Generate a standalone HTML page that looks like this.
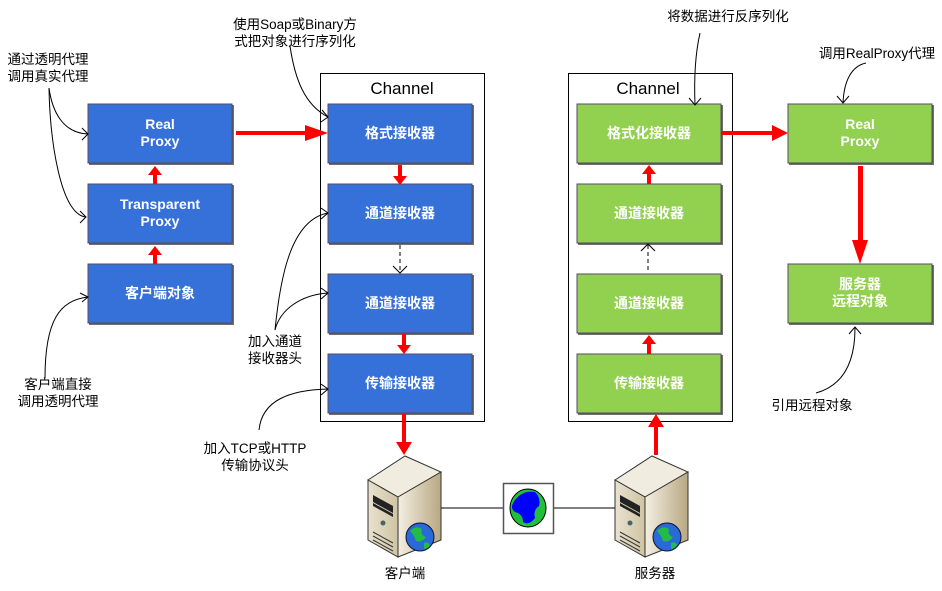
<!DOCTYPE html>
<html><head><meta charset="utf-8"><style>
html,body{margin:0;padding:0;background:#fff;}
svg text{font-family:"Liberation Sans","Noto Sans CJK SC",sans-serif;}
</style></head><body>
<svg width="942" height="586" viewBox="0 0 942 586" xmlns="http://www.w3.org/2000/svg">
<defs>
<linearGradient id="fr" x1="0" y1="0" x2="1" y2="0"><stop offset="0" stop-color="#e9e2cf"/><stop offset="1" stop-color="#cfc3a2"/></linearGradient>
<linearGradient id="sd" x1="0" y1="0" x2="1" y2="0"><stop offset="0" stop-color="#f4efe2"/><stop offset="1" stop-color="#b8a882"/></linearGradient>
<g id="srv">
<polygon points="0,27 37,3 73,19 30,44" fill="#f1ece0" stroke="#333" stroke-width="1"/>
<polygon points="0,27 30,44 30,104 0,87" fill="url(#fr)" stroke="#333" stroke-width="1"/>
<polygon points="30,44 73,19 73,87 30,104" fill="url(#sd)" stroke="#333" stroke-width="1"/>
<polygon points="5,42 25,53 25,60 5,49" fill="#222"/>
<polygon points="5,50 25,61 25,64 5,53" fill="#222"/>
<circle cx="15" cy="70" r="2.5" fill="#466"/>
<line x1="5" y1="79" x2="25" y2="90" stroke="#333"/>
<line x1="5" y1="83" x2="25" y2="94" stroke="#333"/>
<line x1="5" y1="87" x2="25" y2="98" stroke="#333"/>
<circle cx="52" cy="84" r="14" fill="#2a6ad8" stroke="#113" stroke-width="1"/>
<path d="M42,78 q6,-6 12,-2 q-2,6 4,8 q-4,6 -10,4 q-2,-6 -6,-10z M56,90 q4,-2 6,2 q-2,4 -6,4z" fill="#22bb44"/>
</g>
</defs>
<g fill="none" stroke="#000" stroke-width="1">
<rect x="320.5" y="73.5" width="164" height="348"/>
<rect x="568.5" y="73.5" width="164" height="348"/>
</g>
<text x="402" y="94" font-size="17" text-anchor="middle" fill="#000">Channel</text>
<text x="648" y="94" font-size="17" text-anchor="middle" fill="#000">Channel</text>
<g stroke="#5a4a6a" stroke-width="1">
<g fill="#3571d8">
<rect x="88" y="104" width="144" height="59"/>
<rect x="88" y="184" width="144" height="59"/>
<rect x="88" y="264" width="144" height="59"/>
<rect x="328" y="104" width="144" height="59"/>
<rect x="328" y="184" width="144" height="59"/>
<rect x="328" y="274" width="144" height="59"/>
<rect x="328" y="354" width="144" height="59"/>
</g>
<g fill="#92d050">
<rect x="577" y="104" width="144" height="59"/>
<rect x="577" y="184" width="144" height="59"/>
<rect x="577" y="274" width="144" height="59"/>
<rect x="577" y="354" width="144" height="59"/>
<rect x="788" y="104" width="144" height="59"/>
<rect x="788" y="264" width="144" height="59"/>
</g>
</g>
<g fill="none" stroke="#333" stroke-width="2" opacity="0.7">
<path d="M89,164 H233 V105"/><path d="M89,244 H233 V185"/><path d="M89,324 H233 V265"/>
<path d="M329,164 H473 V105"/><path d="M329,244 H473 V185"/><path d="M329,334 H473 V275"/><path d="M329,414 H473 V355"/>
<path d="M578,164 H722 V105"/><path d="M578,244 H722 V185"/><path d="M578,334 H722 V275"/><path d="M578,414 H722 V355"/>
<path d="M789,164 H933 V105"/><path d="M789,324 H933 V265"/>
</g>
<g fill="#fff" font-weight="bold" font-size="14" text-anchor="middle">
<text x="160" y="129">Real</text><text x="160" y="146">Proxy</text>
<text x="160" y="209">Transparent</text><text x="160" y="226">Proxy</text>
<text x="160" y="298">客户端对象</text>
<text x="400" y="138">格式接收器</text>
<text x="400" y="218">通道接收器</text>
<text x="400" y="308">通道接收器</text>
<text x="400" y="388">传输接收器</text>
<text x="649" y="138">格式化接收器</text>
<text x="649" y="218">通道接收器</text>
<text x="649" y="308">通道接收器</text>
<text x="649" y="388">传输接收器</text>
<text x="860" y="129">Real</text><text x="860" y="146">Proxy</text>
<text x="860" y="289">服务器</text><text x="860" y="306">远程对象</text>
</g>
<g fill="#ff0000" stroke="none">
<rect x="236" y="131" width="70" height="4"/><polygon points="305,125 328,133 305,141"/>
<rect x="153" y="173" width="4" height="11"/><polygon points="148,175 155,166 162,175"/>
<rect x="153" y="253" width="4" height="11"/><polygon points="148,255 155,246 162,255"/>
<rect x="398" y="165" width="4" height="12"/><polygon points="393,176 400,185 407,176"/>
<rect x="402" y="334" width="4" height="12"/><polygon points="397,345 404,354 411,345"/>
<rect x="402" y="414" width="4" height="30"/><polygon points="396,442 404,455 412,442"/>
<rect x="647" y="172" width="4" height="12"/><polygon points="642,174 649,165 656,174"/>
<rect x="647" y="342" width="4" height="12"/><polygon points="642,344 649,335 656,344"/>
<rect x="654" y="425" width="4" height="30"/><polygon points="648,427 656,414 664,427"/>
<rect x="721" y="131" width="52" height="4"/><polygon points="772,125 788,133 772,141"/>
<rect x="858" y="166" width="5" height="76"/><polygon points="852,240 860,264 868,240"/>
</g>
<g fill="none" stroke="#000" stroke-width="1">
<line x1="400" y1="245" x2="400" y2="272" stroke-dasharray="4,3"/><path d="M393,266 L400,273 L407,266"/>
<line x1="648" y1="245" x2="648" y2="273" stroke-dasharray="4,3"/><path d="M641,251 L648,244 L655,251"/>
<path d="M49,88 C52,110 62,133 88,134"/><path d="M82,128 L88,134 L82,140"/>
<path d="M49,88 C50,140 60,212 85,217"/><path d="M80,211 L86,217 L80,223"/>
<path d="M45,378 C45,320 60,300 88,297"/><path d="M80,293 L88,297 L82,302"/>
<path d="M290,46 C295,80 305,105 328,117"/><path d="M322,110 L328,117 L321,122"/>
<path d="M275,330 C280,280 290,220 328,213"/><path d="M321,208 L328,213 L321,219"/>
<path d="M275,330 C280,310 300,295 328,293"/><path d="M321,288 L328,293 L321,299"/>
<path d="M259,430 C262,400 290,390 328,389"/><path d="M321,384 L328,389 L321,395"/>
<path d="M700,33 C695,55 694,80 695,105"/><path d="M689,98 L695,105 L701,98"/>
<path d="M866,63 C852,66 844,80 843,103"/><path d="M837,96 L843,103 L849,96"/>
<path d="M816,393 C845,385 855,360 855,328"/><path d="M849,334 L855,327 L861,334"/>
<line x1="440" y1="508" x2="503" y2="508"/><line x1="553" y1="508" x2="617" y2="508"/>
</g>
<rect x="503.5" y="483.5" width="50" height="50" fill="#fff" stroke="#555" stroke-width="1.5"/>
<ellipse cx="528" cy="508" rx="18" ry="19" fill="#22c03a" stroke="#000"/>
<path d="M515,500 q8,-10 20,-8 q6,6 4,14 q-6,4 -4,12 q-6,8 -12,4 q0,-8 -8,-10 q-6,-4 0,-12z" fill="#0000ff"/>
<use href="#srv" x="368" y="453"/>
<use href="#srv" x="615" y="453"/>
<g fill="#000" font-size="13.5" text-anchor="middle">
<text x="48" y="64">通过透明代理</text><text x="48" y="81">调用真实代理</text>
<text x="58" y="389">客户端直接</text><text x="58" y="406">调用透明代理</text>
<text x="295" y="29">使用Soap或Binary方</text><text x="295" y="46">式把对象进行序列化</text>
<text x="275" y="346">加入通道</text><text x="275" y="363">接收器头</text>
<text x="255" y="453">加入TCP或HTTP</text><text x="255" y="470">传输协议头</text>
<text x="728" y="21">将数据进行反序列化</text>
<text x="877" y="58">调用RealProxy代理</text>
<text x="812" y="410">引用远程对象</text>
<text x="405" y="578">客户端</text>
<text x="655" y="578">服务器</text>
</g>
</svg>
</body></html>
